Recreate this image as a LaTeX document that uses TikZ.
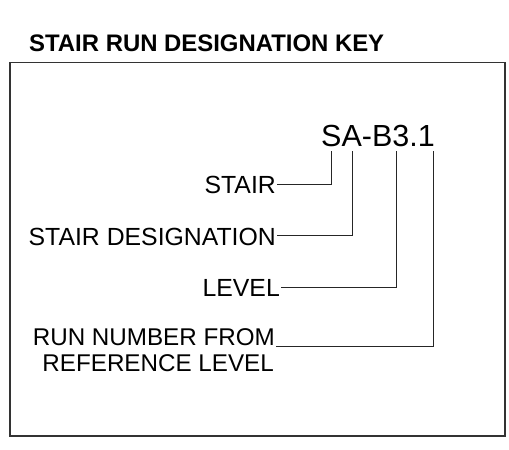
\documentclass[tikz,border=0pt]{standalone}
\usepackage{fontspec}
\setmainfont{Liberation Sans}
\begin{document}
\begin{tikzpicture}[x=1pt,y=-1pt,
  lbl/.style={inner sep=0pt, anchor=base east, font=\fontsize{24.8}{26}\selectfont},
  lblrun/.style={lbl, font=\fontsize{24.2}{26}\selectfont},
  conn/.style={draw=black!85, line width=0.9pt},
  framebox/.style={draw=black!80, line width=1.4pt}]
\useasboundingbox (0,0) rectangle (509,450);
\node[anchor=base west, inner sep=0pt, font=\bfseries\fontsize{23.9}{26}\selectfont] (title) at (29,51) {STAIR RUN DESIGNATION KEY};
\draw[framebox] (10,62.5) rectangle (505,436);
\node[anchor=base west, inner sep=0pt, font=\fontsize{30.5}{32}\selectfont] (code) at (321,146) {SA-B3.1};
\coordinate (tS) at (331,151);
\coordinate (tA) at (352,151);
\coordinate (t3) at (396,151);
\coordinate (t1) at (433,151);
\node[lbl] (stair) at (276,193) {STAIR};
\node[lbl] (sd) at (276,245) {STAIR DESIGNATION};
\node[lbl] (level) at (280,296) {LEVEL};
\node[lblrun] (run1) at (275,345) {RUN NUMBER FROM};
\node[lblrun] (run2) at (274,371) {REFERENCE LEVEL};
\draw[conn] ([xshift=1pt]stair.east) -| (tS);
\draw[conn] ([xshift=1pt,yshift=1.5pt]sd.east) -| (tA);
\draw[conn] ([xshift=1pt]level.east) -| (t3);
\draw[conn] ([xshift=1pt,yshift=-1pt]run1.base east) -| (t1);
\end{tikzpicture}
\end{document}
